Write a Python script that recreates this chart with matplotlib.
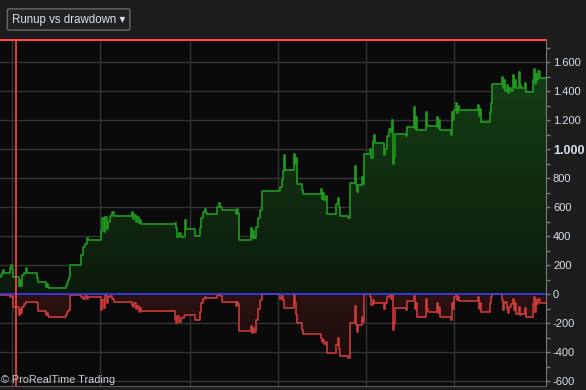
import numpy as np
import matplotlib
matplotlib.use("Agg")
import matplotlib.pyplot as plt
from matplotlib.ticker import MultipleLocator, FuncFormatter

# trade axis positions (step starts) and curves
xs = [0, 1, 2, 3, 4, 10, 11, 12, 13, 19, 20, 21, 22, 24, 26, 27, 37, 38, 46, 47,
      48, 49, 66, 67, 68, 69, 70, 81, 83, 85, 87, 88, 101, 102, 104, 105, 107, 108, 110, 112,
      114, 132, 133, 134, 136, 137, 139, 140, 141, 175, 176, 177, 179, 181, 184, 185, 186, 195, 200, 201,
      203, 205, 206, 207, 217, 219, 220, 222, 236, 237, 238, 239, 251, 252, 253, 254, 256, 258, 260, 262,
      280, 282, 283, 284, 285, 294, 295, 296, 297, 302, 303, 321, 322, 323, 324, 326, 327, 336, 338, 339,
      340, 348, 350, 355, 356, 357, 358, 362, 363, 364, 370, 371, 373, 374, 375, 384, 385, 387, 389, 391,
      392, 393, 394, 395, 406, 407, 414, 415, 416, 417, 426, 427, 428, 437, 438, 439, 440, 451, 452, 453,
      454, 456, 457, 458, 459, 478, 479, 480, 481, 490, 491, 492, 502, 503, 504, 505, 507, 508, 509, 511,
      513, 514, 515, 516, 519, 520, 521, 525, 526, 527, 533, 534, 535, 536, 537, 538, 540, 546]

runup = [117, 135, 150, 165, 145, 180, 200, 175, 117, 55, 100, 60, 130, 150, 180, 145, 110, 83, 48, 70,
         50, 46, 60, 80, 100, 117, 200, 270, 325, 350, 385, 372, 440, 525, 430, 533, 450, 500, 540, 568,
         538, 565, 518, 545, 500, 530, 490, 515, 483, 490, 455, 395, 420, 395, 400, 510, 453, 405, 460, 525,
         568, 587, 560, 557, 600, 630, 600, 580, 555, 585, 560, 378, 455, 385, 440, 390, 465, 525, 580, 715,
         740, 787, 850, 960, 860, 967, 900, 940, 763, 718, 695, 723, 660, 700, 650, 680, 557, 620, 663, 600,
         543, 525, 770, 885, 752, 705, 752, 810, 760, 970, 1005, 937, 1060, 1098, 1040, 960, 1000, 1090, 1143, 1120,
         1200, 897, 950, 1108, 1090, 1155, 1293, 1140, 1220, 1133, 1258, 1170, 1160, 1220, 1150, 1200, 1133, 1100, 1258, 1200,
         1270, 1317, 1250, 1300, 1268, 1305, 1230, 1280, 1188, 1260, 1317, 1450, 1500, 1420, 1480, 1403, 1440, 1386, 1420, 1403,
         1510, 1430, 1480, 1420, 1530, 1440, 1420, 1460, 1393, 1393, 1480, 1557, 1450, 1520, 1480, 1540, 1495, 1495]

drawdown = [-5, -5, -5, -5, -5, -15, -10, -10, -87, -140, -100, -130, -90, -70, -50, -50, -60, -117, -145, -130,
            -150, -157, -140, -125, -115, -105, -5, -15, -35, -10, -30, -20, -110, -40, -95, -5, -60, -20, -10, -30,
            -51, -75, -85, -60, -100, -80, -120, -95, -115, -170, -200, -150, -190, -160, -150, -140, -140, -180, -120, -60,
            -30, -20, -28, -28, -5, 0, -10, -55, -80, -50, -70, -250, -220, -270, -230, -260, -180, -100, -40, 0,
            -30, -10, -40, -97, -97, 0, -60, -143, -200, -248, -272, -300, -330, -316, -340, -330, -405, -350, -303, -380,
            -425, -440, -200, -80, -212, -260, -212, -155, -190, 0, -20, -74, -40, -57, -57, -98, -60, -20, -5, -30,
            -5, -248, -200, -92, -110, -45, -10, -100, -60, -155, -30, -100, -120, -60, -130, -90, -155, -180, -60, -100,
            -20, -5, -40, -15, -46, -20, -100, -60, -125, -60, -20, 0, -40, -110, -60, -50, -100, -130, -90, -70,
            -30, -110, -60, -133, -90, -140, -133, -95, -155, -155, -70, -20, -120, -40, -70, -30, -62, -62]

grid_x = [12, 100, 190, 278, 366, 454]
marker_x = 16

BG = "#1d1d1d"
PLOT_BG = "#0a0a0a"
TXT = "#d6e0ec"
FONT = "Liberation Sans"

fig = plt.figure(figsize=(5.86, 3.90), dpi=100, facecolor=BG)
ax = fig.add_axes([0, 4 / 390, 546 / 586, (386 - 39.5) / 390])
ax.set_facecolor(PLOT_BG)
ax.set_xlim(0, 546)
ax.set_ylim(-632, 1757)

for gx in grid_x:
    ax.axvline(gx, color="#353535", lw=1, zorder=0)
for gy in range(-600, 1800, 200):
    if gy != 0:
        ax.axhline(gy, color="#353535", lw=1, zorder=0)


def gradient_fill(x, y, c_near, c_far, y_far):
    poly = ax.fill_between(x, y, 0, step="post", facecolor="none", edgecolor="none")
    n = 256
    col = np.zeros((n, 1, 3))
    for i in range(3):
        col[:, 0, i] = np.linspace(c_near[i], c_far[i], n) / 255.0
    lo, hi = (0, y_far) if y_far > 0 else (y_far, 0)
    if y_far < 0:
        col = col[::-1]
    im = ax.imshow(col, extent=[0, 546, lo, hi], origin="lower", aspect="auto", zorder=1)
    im.set_clip_path(poly.get_paths()[0], transform=ax.transData)


gradient_fill(xs, runup, (12, 26, 12), (22, 68, 22), 1757)
gradient_fill(xs, drawdown, (44, 18, 18), (22, 10, 10), -632)

ax.plot(xs, runup, drawstyle="steps-post", color="#1f9a1f", lw=1.2, zorder=3)
ax.plot(xs, drawdown, drawstyle="steps-post", color="#cc3a3a", lw=1.2, zorder=3)
ax.axhline(0, color="#3a3aff", lw=1.2, zorder=4)
ax.axvline(marker_x, color="#ff4848", lw=1.2, zorder=5)

ax.spines["left"].set_visible(False)
ax.spines["top"].set_color("#ff4848")
ax.spines["top"].set_linewidth(1.5)
ax.spines["right"].set_color("#7a7a7a")
ax.spines["bottom"].set_color("#5a5a5a")

ax.set_xticks([])
ax.yaxis.tick_right()
ax.yaxis.set_major_locator(MultipleLocator(200))
ax.yaxis.set_minor_locator(MultipleLocator(100))
ax.yaxis.set_major_formatter(FuncFormatter(lambda v, p: f"{int(v):,}".replace(",", ".")))
ax.tick_params(axis="y", which="both", colors="#7a7a7a", labelcolor=TXT, labelsize=8,
               length=3, width=1, pad=2)

fig.canvas.draw()
for lab in ax.get_yticklabels():
    lab.set_fontfamily(FONT)
    if lab.get_text() == "1.000":
        lab.set_fontweight("bold")
        lab.set_fontsize(9)

fig.text(12 / 586, 1 - 19.5 / 390, "Runup vs drawdown \u25be", color=TXT, fontsize=8.3,
         family=[FONT, "DejaVu Sans"], va="center", ha="left",
         bbox=dict(boxstyle="round,pad=0.4,rounding_size=0.15", facecolor="#222222", edgecolor="#6a6a6a", lw=1))
fig.text(1 / 586, 1 - 380 / 390, "\u00a9 ProRealTime Trading", color="#c8d0d8", fontsize=7.8,
         family=FONT, va="center", ha="left", zorder=10)

fig.savefig("out.png", dpi=100, facecolor=BG)
